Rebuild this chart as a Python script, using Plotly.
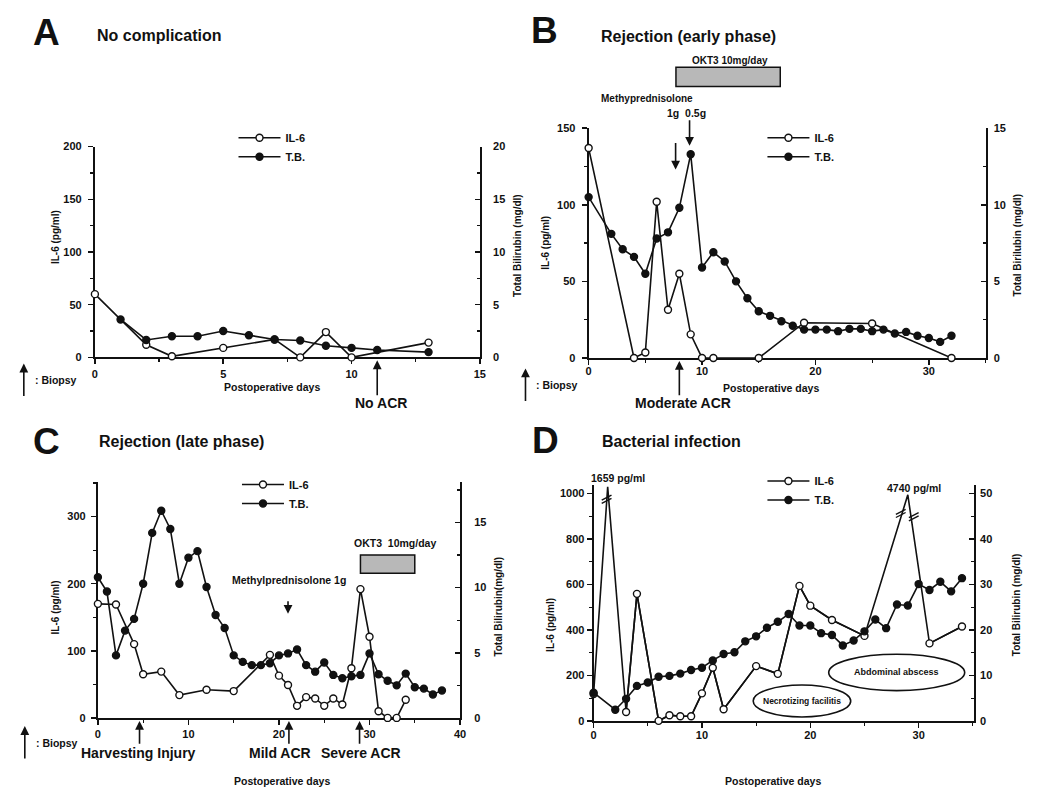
import plotly.graph_objects as go

W, H = 1050, 804
FONT = "Liberation Sans, Arial, Helvetica, sans-serif"
INK = "#111111"

# ---------------- data ----------------
# Panel A : no complication
a_il6_days = [0, 2, 3, 5, 7, 8, 9, 10, 13]
a_il6 = [60, 12, 1, 9, 17, 0, 24, 0, 14]
a_tb_days = [1, 2, 3, 4, 5, 6, 7, 8, 9, 10, 11, 13]
a_tb = [3.6, 1.65, 2.0, 2.0, 2.5, 2.1, 1.7, 1.6, 1.1, 0.9, 0.7, 0.5]
a_biopsy_day = 11

# Panel B : rejection (early phase)
b_il6_days = [0, 4, 5, 6, 7, 8, 9, 10, 11, 15, 19, 25, 32]
b_il6 = [137, 0, 3.6, 102, 31.5, 55, 15.4, 0, 0, 0, 23, 22.5, 0]
b_tb_days = [0, 2, 3, 4, 5, 6, 7, 8, 9, 10, 11, 12, 13, 14, 15, 16, 17, 18, 19, 20,
             21, 22, 23, 24, 25, 26, 27, 28, 29, 30, 31, 32]
b_tb = [10.5, 8.1, 7.1, 6.6, 5.5, 7.8, 8.2, 9.8, 13.3, 5.9, 6.9, 6.3, 5.0, 3.9, 3.05, 2.75,
        2.4, 2.1, 1.85, 1.85, 1.85, 1.75, 1.9, 1.9, 1.75, 1.85, 1.6, 1.7, 1.45, 1.3, 1.05, 1.45]
b_biopsy_day = 8
b_mp_days = [7.67, 8.9]          # methylprednisolone 1 g, 0.5 g
b_okt3_days = [7.7, 16.9]

# Panel C : rejection (late phase)
c_il6_days = [0, 2, 4, 5, 7, 9, 12, 15, 19, 20, 21, 22, 23, 24, 25, 26, 27, 28, 29, 30, 31, 32, 33, 34]
c_il6 = [170, 169, 110, 65, 69, 34, 42, 40, 94, 63, 49, 18, 31, 29, 18, 29, 20, 74, 192, 121, 10, 0, 0, 27]
c_tb_days = list(range(0, 39))
c_tb = [10.8, 9.7, 4.8, 6.7, 7.6, 10.3, 14.2, 15.9, 14.5, 10.3, 12.3, 12.8, 10.05, 7.9, 6.9, 4.8,
        4.3, 4.05, 4.05, 4.2, 4.8, 4.95, 5.25, 4.05, 3.55, 4.25, 3.3, 3.05, 3.2, 3.3, 4.95, 3.35,
        2.85, 2.5, 3.4, 2.35, 2.25, 1.8, 2.1]
c_biopsy_days = [4.6, 21.1, 28.9]
c_biopsy_labels = ["Harvesting Injury", "Mild ACR", "Severe ACR"]
c_mp_day = 21
c_okt3_days = [29, 35]
c_okt3_level = [11.1, 12.5]

# Panel D : bacterial infection
d_il6_days = [0, 1.3, 3, 4, 6, 7, 8, 9, 10, 11, 12, 15, 17, 19, 20, 22, 25, 29, 31, 34]
d_il6 = [118, 1659, 39, 559, 0, 25, 20, 20, 121, 234, 51, 241, 207, 594, 507, 444, 374, 4740, 341, 415]
d_il6_break_tops = [1030, 995]   # heights where the off-scale peaks are cut (broken axis)
d_tb_days = [0] + list(range(2, 35))
d_tb = [6.2, 2.45, 4.85, 7.7, 8.45, 9.7, 9.9, 10.4, 11.2, 11.7, 13.3, 14.7, 15.1, 17.5, 18.6, 20.5,
        21.8, 23.5, 21.0, 21.0, 19.3, 18.9, 16.6, 17.7, 19.7, 22.3, 20.4, 25.6, 25.4, 30.1, 28.8,
        30.6, 28.5, 31.4]
D_SCALE_MAX = 1000

# ---------------- geometry (pixels) ----------------
P = {
    "A": dict(x0=92.7, x1=481, yb=356.7, yt=142.7, xr=[0, 15], yl=[0, 200], yr=[0, 20],
              xd=5, xm=2.5, yld=50, ylm=25, yrd=5, yrm=2.5, xs=0, yls=4, yrs=9),
    "B": dict(x0=590.7, x1=991, yb=357.3, yt=124, xr=[0, 35], yl=[0, 150], yr=[0, 15],
              xd=10, xm=5, yld=50, ylm=25, yrd=5, yrm=2.5, xs=-3, yls=4, yrs=4),
    "C": dict(x0=95.7, x1=461, yb=722.7, yt=483.3, xr=[0, 40], yl=[0, 351.5], yr=[0, 18.1],
              xd=10, xm=5, yld=100, ylm=50, yrd=5, yrm=2.5, xs=0, yls=3, yrs=10),
    "D": dict(x0=595.7, x1=979.3, yb=725.7, yt=485.8, xr=[0, 35.1], yl=[0, 1040], yr=[0, 52],
              xd=10, xm=5, yld=200, ylm=100, yrd=10, yrm=5, xs=-2, yls=0, yrs=2),
}
IDS = {"A": ("x", "y", "y2"), "B": ("x2", "y3", "y4"), "C": ("x3", "y5", "y6"), "D": ("x4", "y7", "y8")}
LEG = {"A": "legend", "B": "legend2", "C": "legend3", "D": "legend4"}


def tf(size=11):
    return dict(family=FONT, size=size, color=INK, weight="bold")


def series(days, vals, xa, ya, is_open, name, legend, mode="lines+markers", show=True):
    return go.Scatter(
        x=days, y=vals, xaxis=xa, yaxis=ya, mode=mode, name=name, legend=legend, showlegend=show,
        line=dict(color=INK, width=1.6), connectgaps=False,
        marker=dict(symbol="circle", size=7, color="white" if is_open else INK,
                    line=dict(color=INK, width=1.4)),
        cliponaxis=False, hoverinfo="skip")


fig = go.Figure()
tops = iter(d_il6_break_tops)
d_il6_path = [v if v <= D_SCALE_MAX else next(tops) for v in d_il6]        # line incl. broken peaks
d_il6_marked = [v if v <= D_SCALE_MAX else None for v in d_il6]            # points shown with markers

sets = {
    "A": (a_il6_days, a_il6, a_tb_days, a_tb),
    "B": (b_il6_days, b_il6, b_tb_days, b_tb),
    "C": (c_il6_days, c_il6, c_tb_days, c_tb),
    "D": (d_il6_days, d_il6_marked, d_tb_days, d_tb),
}
for k, (idays, ivals, tdays, tvals) in sets.items():
    xa, yl, yr = IDS[k]
    if k == "D":
        fig.add_trace(series(d_il6_days, d_il6_path, xa, yl, True, "IL-6", LEG[k], mode="lines", show=False))
    fig.add_trace(series(idays, ivals, xa, yl, True, "IL-6", LEG[k]))
    fig.add_trace(series(tdays, tvals, xa, yr, False, "T.B.", LEG[k]))

layout = dict(width=W, height=H, margin=dict(l=0, r=0, t=0, b=0),
              paper_bgcolor="white", plot_bgcolor="rgba(0,0,0,0)", showlegend=True,
              font=dict(family=FONT, color=INK))


def axname(i):
    return i.replace("x", "xaxis").replace("y", "yaxis")


for k, p in P.items():
    xa, yl, yr = IDS[k]
    common = dict(showline=True, linecolor=INK, linewidth=2, showgrid=False, zeroline=False,
                  tickcolor=INK, tickwidth=1.5, ticklen=5, tick0=0, tickfont=tf(11),
                  layer="below traces", fixedrange=True)
    layout[axname(xa)] = dict(common, domain=[p["x0"] / W, p["x1"] / W], range=p["xr"], anchor=yl,
                              ticks="outside", dtick=p["xd"], ticklabelstandoff=p["xs"],
                              minor=dict(dtick=p["xm"], ticks="outside", ticklen=3, tickwidth=1.2,
                                         tickcolor=INK, showgrid=False))
    ydom = [1 - p["yb"] / H, 1 - p["yt"] / H]
    layout[axname(yl)] = dict(common, domain=ydom, range=p["yl"], anchor=xa, side="left",
                              ticks="outside", dtick=p["yld"], ticklabelstandoff=p["yls"],
                              minor=dict(dtick=p["ylm"], ticks="outside", ticklen=3, tickwidth=1.2,
                                         tickcolor=INK, showgrid=False))
    layout[axname(yr)] = dict(common, domain=ydom, range=p["yr"], anchor=xa, side="right",
                              overlaying=yl, ticks="inside", dtick=p["yrd"], ticklabelstandoff=p["yrs"],
                              minor=dict(dtick=p["yrm"], ticks="inside", ticklen=3, tickwidth=1.2,
                                         tickcolor=INK, showgrid=False))

# legends (x, y of the legend box in pixels)
leg_pos = {"A": (232.5, 119), "B": (766, 119), "C": (236, 471), "D": (766, 467.5)}
for k, (lx, ly) in leg_pos.items():
    layout[LEG[k]] = dict(x=lx / W, y=1 - ly / H, xanchor="left", yanchor="top", xref="paper", yref="paper",
                          bgcolor="rgba(0,0,0,0)", borderwidth=0, font=tf(11), tracegroupgap=0,
                          itemwidth=42, traceorder="normal", itemclick=False, itemdoubleclick=False)

fig.update_layout(**layout)

ann = []


def text(t, x, y, size=11, xanchor="center", angle=0):
    ann.append(dict(text=t, x=x / W, y=1 - y / H, xref="paper", yref="paper", showarrow=False,
                    xanchor=xanchor, yanchor="middle", textangle=angle, font=tf(size)))


def arrow_px(hx, hy, tx, ty):
    ann.append(dict(text="", x=hx / W, y=1 - hy / H, xref="paper", yref="paper", showarrow=True,
                    ax=tx - hx, ay=ty - hy, axref="pixel", ayref="pixel",
                    arrowhead=2, arrowsize=1.1, arrowwidth=1.6, arrowcolor=INK, standoff=0))


def arrow_day(day, xa, hy, ty):
    ann.append(dict(text="", x=day, y=1 - hy / H, xref=xa, yref="paper", showarrow=True,
                    ax=0, ay=ty - hy, axref="pixel", ayref="pixel",
                    arrowhead=2, arrowsize=1.1, arrowwidth=1.6, arrowcolor=INK, standoff=1))


# panel letters and titles
text("A", 44, 27, 37)
text("No complication", 93, 30, 16, "left")
text("B", 546, 25, 37)
text("Rejection (early phase)", 601, 31, 16, "left")
text("C", 44, 442, 37)
text("Rejection (late phase)", 95, 442, 16, "left")
text("D", 547, 441, 37)
text("Bacterial infection", 602, 442, 16, "left")

# axis titles
text("IL-6 (pg/ml)", 53, 235, 10, angle=-90)
text("Total Bilirubin (mg/dl)", 519, 243, 10, angle=-90)
text("IL-6 (pg/ml)", 547, 240, 10, angle=-90)
text("Total Birilubin (mg/dl)", 1023, 243, 10, angle=-90)
text("IL-6 (pg/ml)", 53, 611, 10, angle=-90)
text("Total Bilirubin(mg/dl)", 500, 610, 10, angle=-90)
text("IL-6 (pg/ml)", 552, 628, 10, angle=-90)
text("Total Bilirubin (mg/dl)", 1023, 608, 10, angle=-90)
text("Postoperative days", 271, 387, 10.5)
text("Postoperative days", 775, 388, 10.5)
text("Postoperative days", 281, 787, 10.5)
text("Postoperative days", 777, 787, 10.5)

# biopsy keys
for bx, by in [(21, 380), (527, 385), (22, 748)]:
    arrow_px(bx, by - 17, bx, by + 17)
    text(": Biopsy", bx + 9, by, 10.5, "left")

# panel A biopsy
arrow_day(a_biopsy_day, "x", P["A"]["yb"] + 2, 396)
text("No ACR", 381, 403, 14)

# panel B biopsy and treatments
arrow_day(b_biopsy_day, "x2", P["B"]["yb"] + 2, 396)
text("Moderate ACR", 686, 403, 14)
arrow_day(b_mp_days[0], "x2", 167, 138)
arrow_day(b_mp_days[1], "x2", 143, 115)
text("Methyprednisolone", 650, 94, 10)
text("1g  0.5g", 689, 109, 10.5)
text("OKT3 10mg/day", 733, 55, 10)

# panel C biopsies and treatments
for d in c_biopsy_days:
    arrow_day(d, "x3", P["C"]["yb"] + 2, 750)
text(c_biopsy_labels[0], 137, 758, 14)
text(c_biopsy_labels[1], 279, 758, 14)
text(c_biopsy_labels[2], 361, 758, 14)
arrow_day(c_mp_day, "x3", 618, 603)
text("Methylprednisolone 1g", 288, 583, 10.5)
text("OKT3  10mg/day", 395, 545, 10.5)

# panel D
text("1659 pg/ml", 620, 479, 10.5)
text("4740 pg/ml", 919, 489, 10.5)
ann.append(dict(text="Necrotizing facilitis", x=19.25, y=88, xref="x4", yref="y7", showarrow=False,
                font=tf(8.5)))
ann.append(dict(text="Abdominal abscess", x=28.0, y=213, xref="x4", yref="y7", showarrow=False,
                font=tf(9)))

fig.update_layout(annotations=ann)

shapes = []
# OKT3 boxes
shapes.append(dict(type="rect", xref="x2", yref="paper", x0=b_okt3_days[0], x1=b_okt3_days[1],
                   y0=1 - 81.7 / H, y1=1 - 62.3 / H, fillcolor="#b8b8b8", line=dict(color=INK, width=1.5)))
shapes.append(dict(type="rect", xref="x3", yref="y6", x0=c_okt3_days[0], x1=c_okt3_days[1],
                   y0=c_okt3_level[0], y1=c_okt3_level[1], fillcolor="#b8b8b8", line=dict(color=INK, width=1.5)))
# ellipses
shapes.append(dict(type="circle", xref="x4", yref="y7", x0=14.73, x1=23.73, y0=17, y1=158,
                   line=dict(color=INK, width=1.6), fillcolor="rgba(0,0,0,0)"))
shapes.append(dict(type="circle", xref="x4", yref="y7", x0=21.7, x1=34.25, y0=133, y1=293,
                   line=dict(color=INK, width=1.6), fillcolor="rgba(0,0,0,0)"))
# axis-break marks on the off-scale IL-6 peaks
for bxd, byv in [(1.2, 975), (28.35, 913), (29.55, 898)]:
    for off in (-7, 7):
        shapes.append(dict(type="line", xref="x4", yref="y7", x0=bxd - 0.45, x1=bxd + 0.45,
                           y0=byv + off - 11, y1=byv + off + 11, line=dict(color=INK, width=1.4)))
fig.update_layout(shapes=shapes)

fig.write_html("out.html", config={"displayModeBar": False, "staticPlot": True},
               post_script="document.body.style.margin='0';document.body.style.overflow='hidden';")
